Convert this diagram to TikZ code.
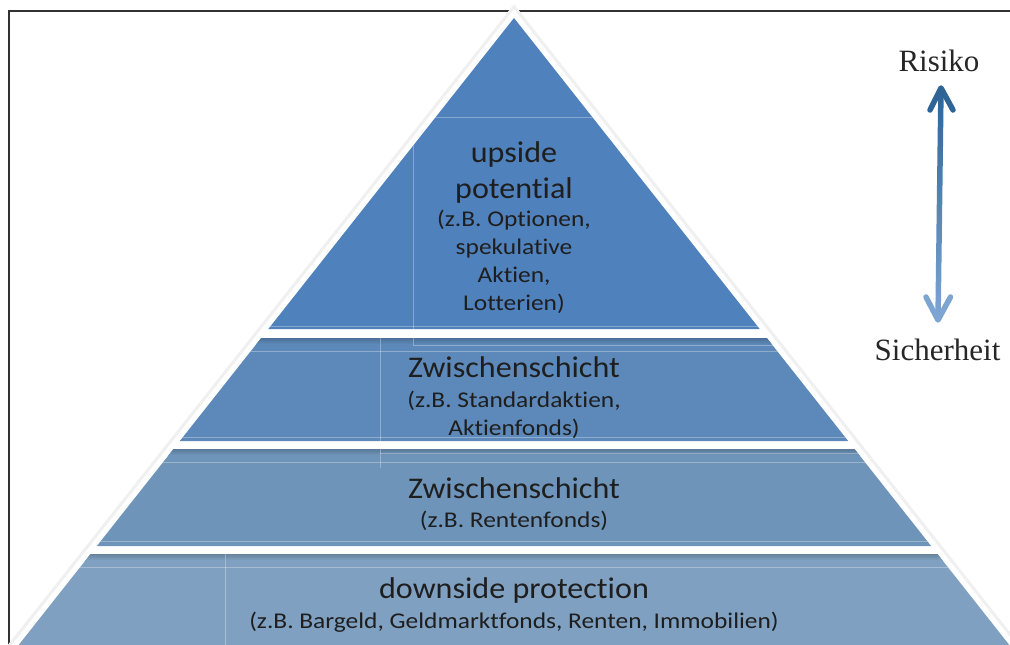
\documentclass[tikz,border=0pt]{standalone}
\usepackage{fontspec}
\usetikzlibrary{calc}
\setmainfont{Carlito}
\newfontfamily\titlefont[FakeStretch=1.07, Ligatures=NoCommon]{Carlito}
\newfontfamily\subfont[FakeStretch=1.13, Ligatures=NoCommon]{Carlito}
\newfontfamily\labelfont{Liberation Serif}
\definecolor{tierA}{RGB}{79,129,189}
\definecolor{tierB}{RGB}{92,137,185}
\definecolor{tierC}{RGB}{111,148,186}
\definecolor{tierD}{RGB}{127,160,192}
\definecolor{adark}{RGB}{46,100,150}
\definecolor{alight}{RGB}{125,165,210}
\definecolor{frame}{RGB}{50,50,50}
\definecolor{txt}{RGB}{30,30,30}
\tikzset{
  title/.style={font=\titlefont\fontsize{30}{36}\selectfont, text=txt, align=center, anchor=base, inner sep=0pt},
  sub/.style={font=\subfont\fontsize{22.5}{27.7}\selectfont, text=txt, align=center, anchor=base, inner sep=0pt},
  side/.style={font=\labelfont\fontsize{31}{36}\selectfont, text=black!85, anchor=base, inner sep=0pt},
  faint/.style={white, opacity=0.3, line width=0.8pt},
  headline/.style={line width=5.5pt, line cap=round, line join=round}
}
\newcommand{\faintlines}{%
  \draw[faint] (0,117) -- (1010,117);
  \draw[faint] (413,117) -- (413,345);
  \draw[faint] (0,326) -- (1010,326);
  \draw[faint] (413,345) -- (1010,345);
  \draw[faint] (0,351) -- (1010,351);
  \draw[faint] (380,338) -- (380,468);
  \draw[faint] (0,437) -- (1010,437);
  \draw[faint] (380,453) -- (1010,453);
  \draw[faint] (0,462) -- (1010,462);
  \draw[faint] (0,541) -- (1010,541);
  \draw[faint] (0,567) -- (1010,567);
  \draw[faint] (225,554) -- (225,650);
}
\begin{document}
\begin{tikzpicture}[x=1pt,y=-1pt]
\useasboundingbox (0,0) rectangle (1010,645);
% frame
\draw[frame, line width=2pt] (9,660) -- (9,11) -- (1020,11);
% outer glow / white halo
\filldraw[white, draw=black!6, line width=3pt]
  ({505-0.79*(660-18)},660) -- (514,6.6) -- ({523+0.79*(660-18)},660);
% tiers
\begin{scope}
  \clip (514,18) -- ({514-0.79*(329-18)},329) -- ({514+0.79*(329-18)},329) -- cycle;
  \fill[tierA] (0,0) rectangle (1010,650);
  \faintlines
\end{scope}
\begin{scope}
  \clip ({514-0.79*(338-18)},338) -- ({514+0.79*(338-18)},338) -- ({514+0.79*(441-18)},441) -- ({514-0.79*(441-18)},441) -- cycle;
  \fill[tierB] (0,0) rectangle (1010,650);
  \shade[top color=tierB!82!black, bottom color=tierB] (0,338) rectangle (1010,344);
  \faintlines
\end{scope}
\begin{scope}
  \clip ({514-0.79*(449-18)},449) -- ({514+0.79*(449-18)},449) -- ({514+0.79*(546-18)},546) -- ({514-0.79*(546-18)},546) -- cycle;
  \fill[tierC] (0,0) rectangle (1010,650);
  \shade[top color=tierC!82!black, bottom color=tierC] (0,449) rectangle (1010,455);
  \faintlines
\end{scope}
\begin{scope}
  \clip ({514-0.79*(554-18)},554) -- ({514+0.79*(554-18)},554) -- ({514+0.79*(660-18)},660) -- ({514-0.79*(660-18)},660) -- cycle;
  \fill[tierD] (0,0) rectangle (1010,660);
  \shade[top color=tierD!82!black, bottom color=tierD] (0,554) rectangle (1010,560);
  \faintlines
\end{scope}
% texts (anchor = baseline of last line)
\node[title] (t1) at (514,198) {upside\\potential};
\node[sub] (s1) at (514,310) {(z.B. Optionen,\\spekulative\\Aktien,\\Lotterien)};
\node[title] (t2) at (514,377) {Zwischenschicht};
\node[sub] (s2) at (514,435) {(z.B. Standardaktien,\\Aktienfonds)};
\node[title] (t3) at (514,498) {Zwischenschicht};
\node[sub] (s3) at (514,527) {(z.B. Rentenfonds)};
\node[title] (t4) at (514,598) {downside protection};
\node[sub] (s4) at (514,628) {(z.B. Bargeld, Geldmarktfonds, Renten, Immobilien)};
% side labels and arrow
\node[side] (risiko) at (939,71) {Risiko};
\node[side] (sicher) at (937.5,360) {Sicherheit};
\coordinate (rtip) at (941,88);
\coordinate (stip) at (938,320);
\shade[top color=adark, bottom color=alight]
  ($(rtip)+(-2.75,0)$) -- ($(rtip)+(2.75,0)$) -- ($(stip)+(2.75,0)$) -- ($(stip)+(-2.75,0)$) -- cycle;
\draw[headline, adark] ($(rtip)+(-11,22)$) -- (rtip) -- ($(rtip)+(12,22)$);
\draw[headline, alight] ($(stip)+(-12,-23)$) -- (stip) -- ($(stip)+(12.5,-23)$);
\end{tikzpicture}
\end{document}
